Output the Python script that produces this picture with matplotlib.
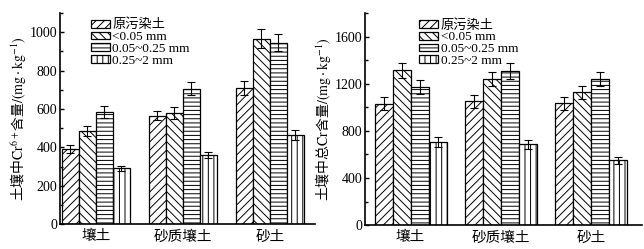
import numpy as np
import matplotlib
matplotlib.use("Agg")
import matplotlib.pyplot as plt
from matplotlib.ticker import MultipleLocator

# -------------------------------
# Datos
# -------------------------------
soils = ["壤土", "砂质壤土", "砂土"]
series = ["原污染土", "<0.05 mm", "0.05~0.25 mm", "0.25~2 mm"]

cr6 = [
    [390, 565, 710],
    [485, 580, 965],
    [585, 705, 945],
    [290, 360, 465],
]
cr6_err = [
    [20, 25, 35],
    [25, 30, 50],
    [30, 35, 45],
    [15, 18, 25],
]

cr_total = [
    [1030, 1050, 1035],
    [1315, 1240, 1130],
    [1175, 1310, 1240],
    [705, 685, 550],
]
cr_total_err = [
    [55, 55, 55],
    [65, 60, 55],
    [60, 65, 60],
    [40, 35, 30],
]

hatches = ["////", "\\\\\\\\", "----", "|||"]

plt.rcParams["font.family"] = ["Liberation Serif", "Noto Sans CJK SC"]
plt.rcParams["mathtext.fontset"] = "stix"
plt.rcParams["hatch.linewidth"] = 0.7
plt.rcParams["hatch.color"] = "black"

fig = plt.figure(figsize=(6.44, 2.49), dpi=100)
ax1 = fig.add_axes([0.0932, 0.100, 0.396, 0.848])
ax2 = fig.add_axes([0.567, 0.096, 0.430, 0.851])


def dibujar(ax, values, errors, ymax, ystep, xlim, width, ylabel, legend_x):
    x = np.arange(len(soils))
    n = len(series)
    for i in range(n):
        pos = x + (i - (n - 1) / 2) * width
        ax.bar(pos, values[i], width, color="white", edgecolor="black",
               linewidth=0.9, hatch=hatches[i], label=series[i])
        ax.errorbar(pos, values[i], yerr=errors[i], fmt="none",
                    ecolor="black", elinewidth=0.8, capsize=2.8,
                    capthick=0.8)
    ax.set_xlim(*xlim)
    ax.set_ylim(0, ymax)
    ax.set_xticks(x)
    ax.set_xticklabels(soils, fontsize=10.5, family="Noto Sans CJK SC")
    ax.tick_params(axis="x", length=0, pad=4)
    ax.yaxis.set_major_locator(MultipleLocator(ystep))
    ax.yaxis.set_minor_locator(MultipleLocator(ystep / 2))
    ax.tick_params(axis="y", which="major", direction="in", length=3,
                   width=1, labelsize=10, pad=2)
    ax.tick_params(axis="y", which="minor", direction="in", length=2,
                   width=1)
    for s in ["top", "right"]:
        ax.spines[s].set_visible(False)
    for s in ["left", "bottom"]:
        ax.spines[s].set_linewidth(1.2)
    ax.set_ylabel(ylabel, fontsize=10, family="Noto Sans CJK SC", labelpad=1)
    ax.legend(loc="upper left", bbox_to_anchor=(legend_x, 0.985),
              frameon=False, fontsize=9.5, handlelength=1.45,
              handleheight=0.55, labelspacing=-0.02, handletextpad=0.2,
              borderpad=0.2, borderaxespad=0.0)


dibujar(ax1, cr6, cr6_err, 1100, 200, (-0.41, 2.52), 0.195,
        "土壤中$\\mathrm{Cr}^{6+}$含量$/(\\mathrm{mg\\cdot kg}^{-1})$", 0.11)
dibujar(ax2, cr_total, cr_total_err, 1800, 400, (-0.505, 2.57), 0.2,
        "土壤中总$\\mathrm{Cr}$含量$/(\\mathrm{mg\\cdot kg}^{-1})$", 0.185)

fig.savefig("out.png", dpi=100)
